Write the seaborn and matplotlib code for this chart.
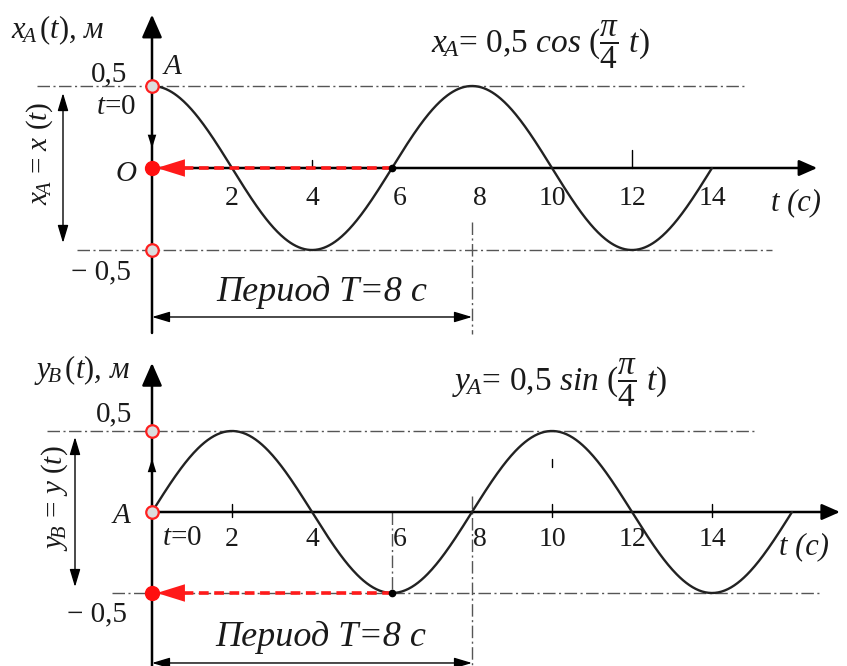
import numpy as np
import pandas as pd
import matplotlib
matplotlib.use("Agg")
import matplotlib.pyplot as plt
import seaborn as sns

# Oscillation parameters
amplitude = 0.5          # м
period = 8.0             # с
t_end_x = 14.0           # end of the x_A(t) trace, с
t_end_y = 16.0           # end of the y_B(t) trace, с

tick_values_x = [2, 4, 6, 8, 10, 12, 14]
tick_values_y = [2, 4, 6, 8, 10, 12, 14]
tick_labels_x = ["2", "4", "6", "8", "10", "12", "14"]
tick_labels_y = ["2", "4", "6", "8", "10", "12", "14"]

level_labels = ["0,5", "\u2212 0,5"]
title_x = r"$x_{\!A}$= 0,5 $cos$ ($\dfrac{\pi}{4}$ $t$)"
title_y = r"$y_{\!A}$= 0,5 $sin$ ($\dfrac{\pi}{4}$ $t$)"
period_text = "Период T=8 с"

omega = 2 * np.pi / period
t_x = np.linspace(0, t_end_x, 600)
t_y = np.linspace(0, t_end_y, 600)
df_x = pd.DataFrame({"t": t_x, "x": amplitude * np.cos(omega * t_x)})
df_y = pd.DataFrame({"t": t_y, "y": amplitude * np.sin(omega * t_y)})

sns.set_theme(style="white")
plt.rcParams["font.family"] = ["Liberation Serif", "DejaVu Serif"]
plt.rcParams["mathtext.fontset"] = "custom"
plt.rcParams["mathtext.rm"] = "Liberation Serif"
plt.rcParams["mathtext.it"] = "Liberation Serif:italic"
plt.rcParams["mathtext.bf"] = "Liberation Serif:bold"
plt.rcParams["lines.scale_dashes"] = False

W, H = 847, 666
fig = plt.figure(figsize=(W / 100, H / 100), dpi=100)
fig.patch.set_facecolor("white")

PX_PER_T = 40.0
T0_PX = 152.0


def make_axes(top_px, bottom_px, axis_px, px_per_unit):
    ax = fig.add_axes([0, 1 - bottom_px / H, 1, (bottom_px - top_px) / H])
    ax.set_xlim(-T0_PX / PX_PER_T, (W - T0_PX) / PX_PER_T)
    ax.set_ylim((axis_px - bottom_px) / px_per_unit, (axis_px - top_px) / px_per_unit)
    ax.axis("off")
    return ax


ax1 = make_axes(0, 345, 168, 164)
ax2 = make_axes(345, 666, 512, 162)

DASHDOT = (0, (9, 2.5, 1.5, 2.5))
GREY = "#555555"
TXT = "#1a1a1a"
FS_TICK = 20
FS_LBL = 21
FS_TITLE = 24
FS_PERIOD = 26


def axis_arrow(ax, start, end, lw=1.8, hl=0.5, hw=0.22, ms=28):
    ax.annotate("", xy=end, xytext=start,
                arrowprops=dict(arrowstyle=f"-|>,head_length={hl},head_width={hw}",
                                color="black", lw=lw, mutation_scale=ms,
                                shrinkA=0, shrinkB=0))


def double_arrow(ax, start, end, lw=1.0):
    ax.annotate("", xy=end, xytext=start,
                arrowprops=dict(arrowstyle="<|-|>,head_length=0.6,head_width=0.18",
                                color="black", lw=lw, mutation_scale=18,
                                shrinkA=0, shrinkB=0))


def red_pointer(ax, t_from, level):
    ax.plot([t_from, 0.3], [level, level], color="#ff1a1a", lw=2.6,
            linestyle=(0, (7, 4)), zorder=5)
    ax.annotate("", xy=(0.12, level), xytext=(1.0, level),
                arrowprops=dict(arrowstyle="-|>,head_length=0.45,head_width=0.14",
                                color="#ff1a1a", lw=0, mutation_scale=45,
                                shrinkA=0, shrinkB=0), zorder=6)


def open_marker(ax, level):
    ax.plot([0], [level], marker="o", ms=9, mfc="#dcdcdc", mec="#ff2020",
            mew=1.6, zorder=8, clip_on=False)


def filled_marker(ax, level):
    ax.plot([0], [level], marker="o", ms=10, mfc="#ff1010", mec="#ff1010",
            zorder=8, clip_on=False)


def label(ax, t, v, s, size=FS_LBL, **kw):
    ax.text(t, v, s, fontsize=size, ha="center", va="center", color=TXT, **kw)


# ---------------- x_A(t) panel ----------------
ax = ax1
ax.plot([-2.875, 14.875], [amplitude, amplitude], color=GREY, lw=1.0, ls=DASHDOT)
ax.plot([-1.875, 15.5], [-amplitude, -amplitude], color=GREY, lw=1.0, ls=DASHDOT)
ax.plot([period, period], [-0.33, -1.01], color=GREY, lw=1.0, ls=DASHDOT)

sns.lineplot(data=df_x, x="t", y="x", ax=ax, color="#222222", lw=1.7,
             legend=False, zorder=4)

axis_arrow(ax, (0, 0), (16.63, 0), ms=22)
axis_arrow(ax, (0, -1.006), (0, 0.935))
ax.annotate("", xy=(0, 0.12), xytext=(0, 0.3),
            arrowprops=dict(arrowstyle="-|>,head_length=0.7,head_width=0.22",
                            color="black", lw=0, mutation_scale=14,
                            shrinkA=0, shrinkB=0))
for tv, hgt in [(4, 0.05), (12, 0.11)]:
    ax.plot([tv, tv], [0, hgt], color="black", lw=1.0)

red_pointer(ax, 6, 0)
ax.plot([6], [0], marker="o", ms=4.5, color="black", zorder=7)
open_marker(ax, amplitude)
open_marker(ax, -amplitude)
filled_marker(ax, 0)

double_arrow(ax, (-2.225, 0.457), (-2.225, -0.457))
double_arrow(ax, (0, -0.9085), (period, -0.9085))

for tv, lab in zip(tick_values_x, tick_labels_x):
    label(ax, tv + (0.2 if tv in (6, 8) else 0), -0.183, lab, size=FS_TICK)
label(ax, 16.1, -0.213, "t (с)", size=FS_LBL + 1, style="italic")
label(ax, -2.35, 0.841, r"$x_{\!A}\,(t)$, м", size=FS_LBL + 1, style="italic")
label(ax, -1.075, 0.573, level_labels[0])
label(ax, -1.275, -0.634, level_labels[1])
label(ax, 0.525, 0.616, r"$A$")
label(ax, -0.9, 0.372, r"$t$=0")
label(ax, -0.65, -0.037, r"$O$")
label(ax, -2.8, 0.09, r"$x_{\!A}$ = $x$ ($t$)", rotation=90)
label(ax, 9.7, 0.75, title_x, size=FS_TITLE)
label(ax, 4.25, -0.756, period_text, size=FS_PERIOD, style="italic")

# ---------------- y_B(t) panel ----------------
ax = ax2
ax.plot([-2.625, 15.1], [amplitude, amplitude], color=GREY, lw=1.0, ls=DASHDOT)
ax.plot([-1.0, 16.7], [-amplitude, -amplitude], color=GREY, lw=1.0, ls=DASHDOT)
ax.plot([period, period], [0.1, -0.96], color=GREY, lw=1.0, ls=DASHDOT)
ax.plot([6, 6], [0, -amplitude], color=GREY, lw=1.0, ls=DASHDOT)

sns.lineplot(data=df_y, x="t", y="y", ax=ax, color="#222222", lw=1.7,
             legend=False, zorder=4)

axis_arrow(ax, (0, 0), (17.2, 0), ms=22)
axis_arrow(ax, (0, -0.96), (0, 0.92))
ax.annotate("", xy=(0, 0.33), xytext=(0, 0.15),
            arrowprops=dict(arrowstyle="-|>,head_length=0.7,head_width=0.22",
                            color="black", lw=0, mutation_scale=14,
                            shrinkA=0, shrinkB=0))
for tv in (2, 10, 14):
    ax.plot([tv, tv], [-0.03, 0.05], color="black", lw=1.0)
ax.plot([10, 10], [0.28, 0.33], color="black", lw=1.0)

red_pointer(ax, 6, -amplitude)
ax.plot([6], [-amplitude], marker="o", ms=4.5, color="black", zorder=7)
open_marker(ax, amplitude)
open_marker(ax, 0)
filled_marker(ax, -amplitude)

double_arrow(ax, (-1.925, 0.463), (-1.925, -0.463))
double_arrow(ax, (0, -0.932), (period, -0.932))

for tv, lab in zip(tick_values_y, tick_labels_y):
    label(ax, tv + (0.2 if tv in (6, 8) else 0), -0.17, lab, size=FS_TICK)
label(ax, 0.75, -0.16, r"$t$=0")
label(ax, 16.3, -0.216, "t (с)", size=FS_LBL + 1, style="italic")
label(ax, -1.75, 0.877, r"$y_{\!B}\,(t)$, м", size=FS_LBL + 1, style="italic")
label(ax, -0.95, 0.605, level_labels[0])
label(ax, -1.375, -0.63, level_labels[1])
label(ax, -0.75, -0.025, r"$A$")
label(ax, -2.425, 0.086, r"$y_{\!B}$ = $y$ ($t$)", rotation=90)
label(ax, 10.2, 0.80, title_y, size=FS_TITLE)
label(ax, 4.225, -0.772, period_text, size=FS_PERIOD, style="italic")

fig.savefig("out.png", dpi=100, facecolor="white")
